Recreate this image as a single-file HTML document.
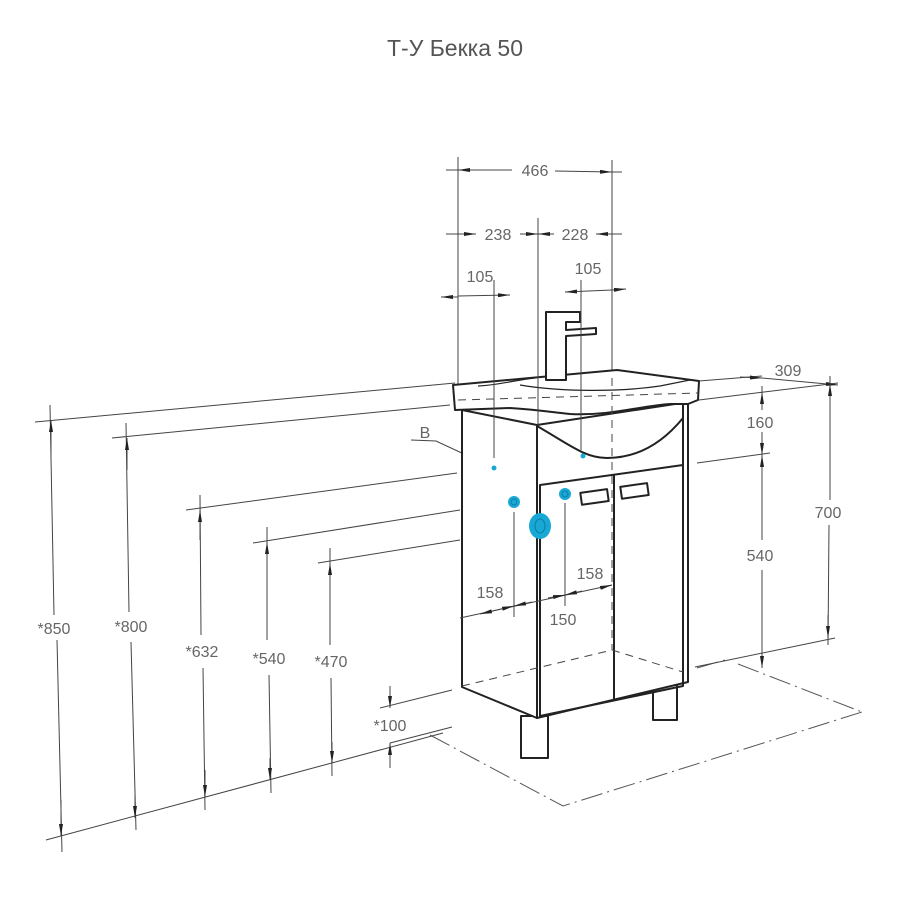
<!DOCTYPE html>
<html><head><meta charset="utf-8"><style>
html,body{margin:0;padding:0;background:#fff;width:900px;height:900px;overflow:hidden}
svg{display:block}
text{font-family:"Liberation Sans","DejaVu Sans",sans-serif;fill:#666;font-size:16px}
</style></head><body>
<svg width="900" height="900" viewBox="0 0 900 900" xmlns="http://www.w3.org/2000/svg">
<defs>
<marker id="a" viewBox="0 0 12 4" refX="12" refY="2" markerWidth="12" markerHeight="4" orient="auto-start-reverse" markerUnits="userSpaceOnUse"><path d="M0,0 L12,2 L0,4z" fill="#222"/></marker>
</defs>
<text x="455" y="56" text-anchor="middle" style="font-size:23px;fill:#555">Т-У Бекка 50</text>

<!-- floor dash-dot -->
<g stroke="#555" stroke-width="1" fill="none" stroke-dasharray="22,5,2,5">
<polyline points="430,735 563,806 862,712"/>
<line x1="738" y1="664" x2="862" y2="712"/>
<line x1="697" y1="668" x2="725" y2="660"/>
</g>

<g stroke="#444" stroke-width="1" fill="none">
<line x1="458" y1="157" x2="458" y2="385"/>
<line x1="612" y1="160" x2="612" y2="372"/>
<!-- 466 -->
<line x1="458" y1="170" x2="512" y2="170" marker-start="url(#a)"/>
<line x1="555" y1="171" x2="612" y2="172" marker-end="url(#a)"/>
<line x1="446" y1="170" x2="458" y2="170"/><line x1="612" y1="172" x2="622" y2="172"/>
<line x1="446" y1="234" x2="476" y2="234" marker-end="url(#a)"/>
<line x1="520" y1="234" x2="538" y2="234" marker-end="url(#a)"/>
<line x1="538" y1="234" x2="554" y2="234" marker-start="url(#a)"/>
<line x1="596" y1="234" x2="622" y2="234" marker-start="url(#a)"/>
<line x1="441" y1="297" x2="458" y2="297" marker-start="url(#a)"/>
<line x1="458" y1="296" x2="510" y2="295" marker-end="url(#a)"/>
<line x1="565" y1="292" x2="612" y2="290" marker-start="url(#a)"/>
<line x1="612" y1="290" x2="626" y2="289" marker-end="url(#a)"/>

<line x1="35" y1="422" x2="455" y2="383"/>
<line x1="112" y1="438" x2="450" y2="405"/>
<line x1="186" y1="510" x2="457" y2="473"/>
<line x1="253" y1="543" x2="460" y2="510"/>
<line x1="318" y1="563" x2="460" y2="540"/>
<line x1="46" y1="840" x2="443" y2="733"/>
<line x1="380" y1="708" x2="452" y2="690"/>
<line x1="50" y1="405" x2="54" y2="615"/><line x1="57" y1="640" x2="62" y2="852"/>
<line x1="51" y1="420" x2="51" y2="460" marker-start="url(#a)"/>
<line x1="61" y1="836" x2="61" y2="800" marker-start="url(#a)"/>
<line x1="126" y1="423" x2="129" y2="612"/><line x1="131" y1="642" x2="136" y2="830"/>
<line x1="127" y1="438" x2="127" y2="470" marker-start="url(#a)"/>
<line x1="135" y1="818" x2="135" y2="790" marker-start="url(#a)"/>
<line x1="200" y1="495" x2="201" y2="635"/><line x1="203" y1="668" x2="205" y2="810"/>
<line x1="200" y1="510" x2="200" y2="540" marker-start="url(#a)"/>
<line x1="205" y1="797" x2="205" y2="770" marker-start="url(#a)"/>
<line x1="267" y1="527" x2="267" y2="640"/><line x1="269" y1="675" x2="271" y2="793"/>
<line x1="267" y1="542" x2="267" y2="565" marker-start="url(#a)"/>
<line x1="270" y1="780" x2="270" y2="758" marker-start="url(#a)"/>
<line x1="330" y1="548" x2="330" y2="645"/><line x1="331" y1="678" x2="332" y2="776"/>
<line x1="330" y1="563" x2="330" y2="582" marker-start="url(#a)"/>
<line x1="332" y1="763" x2="332" y2="742" marker-start="url(#a)"/>
<line x1="390" y1="686" x2="390" y2="708" marker-end="url(#a)"/>
<line x1="390" y1="768" x2="390" y2="743" marker-end="url(#a)"/>
<line x1="390" y1="743" x2="452" y2="727"/>
<polyline points="411,440 436,441 494,468"/>

<line x1="699" y1="381" x2="762" y2="376"/>
<line x1="699" y1="400" x2="838" y2="383"/>
<line x1="740" y1="377" x2="762" y2="378" marker-end="url(#a)"/>
<line x1="762" y1="378" x2="838" y2="385" marker-end="url(#a)"/>
<line x1="830" y1="376" x2="830" y2="500"/><line x1="829" y1="525" x2="828" y2="645"/>
<line x1="830" y1="384" x2="830" y2="405" marker-start="url(#a)"/>
<line x1="828" y1="638" x2="828" y2="615" marker-start="url(#a)"/>
<line x1="762" y1="386" x2="762" y2="410"/><line x1="762" y1="392" x2="762" y2="402" marker-start="url(#a)"/>
<line x1="762" y1="432" x2="762" y2="455" marker-end="url(#a)"/>
<line x1="762" y1="455" x2="762" y2="540" marker-start="url(#a)"/>
<line x1="762" y1="570" x2="762" y2="668" marker-end="url(#a)"/>
<line x1="697" y1="463" x2="770" y2="453"/>
<line x1="695" y1="667" x2="835" y2="638"/>
</g>

<!-- cabinet -->
<g stroke="#222" stroke-width="2" fill="#fff" stroke-linejoin="round">
<rect x="521" y="716" width="27" height="42"/>
<rect x="653" y="680" width="24" height="40"/>
<polygon points="462,410 537,425 537,718 462,687"/>
<polygon points="537,425 688,402 688,682 537,718"/>
<line x1="683" y1="404" x2="683" y2="684"/>
<polygon points="540,485 683,465 683,686 540,716" fill="none"/>
<line x1="614" y1="475" x2="614" y2="700"/>
<rect x="581" y="491" width="27" height="12" transform="rotate(-8 594 497)"/>
<rect x="621" y="485" width="27" height="12" transform="rotate(-8 634 491)"/>
<path d="M537,426 C570,445 585,458 607,458 C640,458 665,440 683,418" fill="none"/>
<path d="M453,385 L617,370 L699,381 L698,400 L688,404 L670,404 C640,406 610,416 570,414 C550,412 540,410 510,408 L455,410 Z"/>
<path d="M478,386 C500,385 515,380 535,378 M618,370 L690,380 L660,386 C620,392 560,392 520,385" fill="none" stroke-width="1.2"/>
<path d="M546,312 L580,312 L580,322 L566,322 L566,330 L596,328 L596,334 L566,336 L566,380 L546,380 Z"/>
</g>
<g stroke="#444" stroke-width="1" fill="none" stroke-dasharray="8,6">
<line x1="458" y1="400" x2="698" y2="393"/>
<line x1="612" y1="378" x2="612" y2="650"/>
<line x1="462" y1="686" x2="612" y2="650"/>
<line x1="612" y1="650" x2="683" y2="672"/>
</g>

<!-- lines drawn over cabinet -->
<g stroke="#444" stroke-width="1" fill="none">
<line x1="538" y1="218" x2="538" y2="425"/>
<line x1="494" y1="280" x2="494" y2="458"/>
<line x1="581" y1="280" x2="581" y2="450"/>
<line x1="514" y1="512" x2="514" y2="617"/>
<line x1="565" y1="503" x2="565" y2="606"/>
<line x1="460" y1="618" x2="612" y2="585"/>
<line x1="480" y1="614" x2="497" y2="610" marker-start="url(#a)"/>
<line x1="497" y1="610" x2="514" y2="606" marker-end="url(#a)"/>
<line x1="514" y1="606" x2="532" y2="602" marker-start="url(#a)"/>
<line x1="548" y1="598" x2="565" y2="595" marker-end="url(#a)"/>
<line x1="565" y1="595" x2="582" y2="591" marker-start="url(#a)"/>
<line x1="600" y1="588" x2="612" y2="585" marker-end="url(#a)"/>
</g>

<g fill="#19a8d6">
<circle cx="494" cy="468" r="2.5"/>
<circle cx="583" cy="456" r="2.5"/>
<circle cx="514" cy="502" r="6"/>
<circle cx="565" cy="494" r="6"/>
<ellipse cx="540" cy="526" rx="11" ry="13"/>
</g>
<g fill="none" stroke="#0b7fa6" stroke-width="1">
<circle cx="514" cy="502" r="3"/><circle cx="565" cy="494" r="3"/><ellipse cx="540" cy="526" rx="5" ry="7"/>
</g>

<g>
<text x="535" y="176" text-anchor="middle">466</text>
<text x="498" y="240" text-anchor="middle">238</text>
<text x="575" y="240" text-anchor="middle">228</text>
<text x="480" y="282" text-anchor="middle">105</text>
<text x="588" y="274" text-anchor="middle">105</text>
<text x="788" y="376" text-anchor="middle">309</text>
<text x="760" y="428" text-anchor="middle">160</text>
<text x="760" y="561" text-anchor="middle">540</text>
<text x="828" y="518" text-anchor="middle">700</text>
<text x="490" y="598" text-anchor="middle">158</text>
<text x="590" y="579" text-anchor="middle">158</text>
<text x="563" y="625" text-anchor="middle">150</text>
<text x="425" y="438" text-anchor="middle">B</text>
<text x="54" y="634" text-anchor="middle">*850</text>
<text x="131" y="632" text-anchor="middle">*800</text>
<text x="202" y="657" text-anchor="middle">*632</text>
<text x="269" y="664" text-anchor="middle">*540</text>
<text x="331" y="667" text-anchor="middle">*470</text>
<text x="390" y="731" text-anchor="middle">*100</text>
</g>
</svg>
</body></html>
